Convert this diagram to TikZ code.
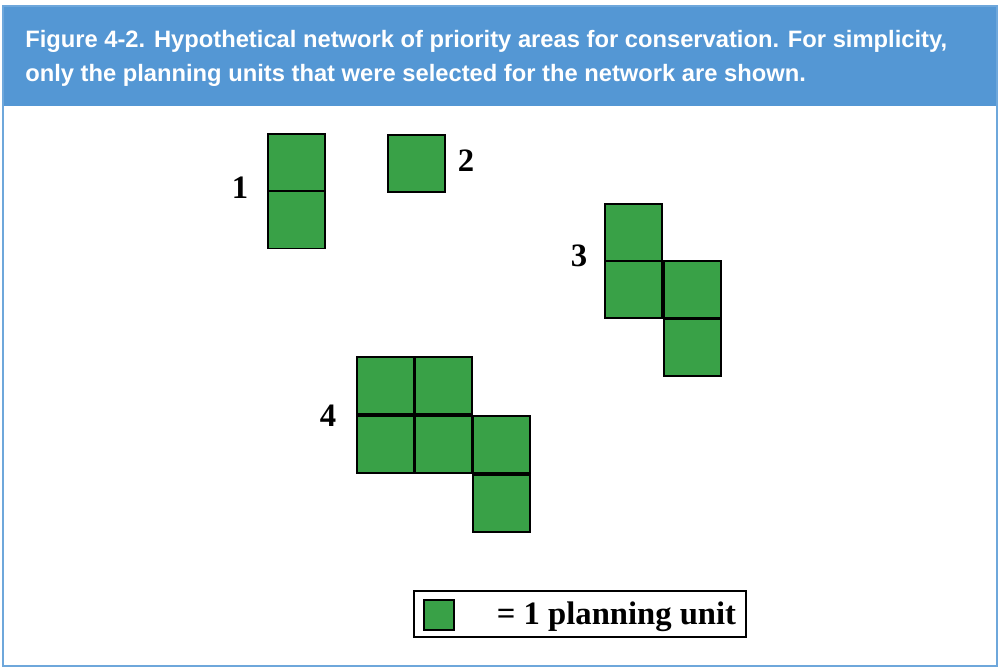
\documentclass[tikz,border=0pt]{standalone}
\usepackage{fontspec}
\setmainfont{Liberation Serif}
\newfontfamily\headfont{Liberation Sans}
\usepackage{tikz}
\usepackage{xcolor}
\definecolor{headblue}{RGB}{84,151,212}
\definecolor{unitgreen}{RGB}{57,161,71}
\tikzset{
unit/.style={
 draw=black, 
 fill=unitgreen, 
 line width=1.1pt, 
 inner sep=0pt, 
 minimum size=42.8pt
 },
keyunit/.style={
 draw=black, 
 fill=unitgreen, 
 line width=0.9pt, 
 inner sep=0pt, 
 minimum size=22.5pt
 },
arealabel/.style={
 font=\fontsize{24.5}{28}\selectfont\bfseries, 
 inner sep=0pt
 },
headline/.style={
 font=\headfont\fontsize{17.8}{20}\selectfont\bfseries, 
 text=white, 
 anchor=base west, 
 inner sep=0pt
 }
}
\begin{document}
\begin{tikzpicture}[x=0.75pt,y=-0.75pt]
\useasboundingbox (0,0) rectangle (1000,669);
\fill[headblue] (3,6) rectangle (997,106);
\draw[headblue!85,line width=1.5pt] (3,6) rectangle (997,666);
\node[headline] (head1) at (25,47) {Figure 4-2. Hypothetical network of priority areas for conservation. For simplicity,};
\node[headline] (head2) at (25,81) {only the planning units that were selected for the network are shown.};
% area 1
\node[unit] (a1) at (296.5,162.5) {};
\node[unit] (b1) at (296.5,220) {};
\node[arealabel] (l1) at (240,188) {1};
% area 2
\node[unit] (a2) at (416.5,163.5) {};
\node[arealabel] (l2) at (466,161) {2};
% area 3
\node[unit] (a3) at (633.5,232.5) {};
\node[unit] (b3) at (633.5,289.5) {};
\node[unit] (c3) at (692.5,289.5) {};
\node[unit] (d3) at (692.5,347.5) {};
\node[arealabel] (l3) at (579,256) {3};
% area 4
\node[unit] (a4) at (385.5,385.5) {};
\node[unit] (b4) at (443.5,385.5) {};
\node[unit] (c4) at (385.5,444.5) {};
\node[unit] (d4) at (443.5,444.5) {};
\node[unit] (e4) at (501.5,444.5) {};
\node[unit] (f4) at (501.5,503.5) {};
\node[arealabel] (l4) at (328,416) {4};
% legend
\node[draw=black,line width=0.9pt,minimum width=249pt,minimum height=34.5pt,inner sep=0pt] (legend) at (580,614) {};
\node[keyunit] (key) at (439,615) {};
\node[arealabel] (keytext) at (616.5,617) {= 1 planning unit};
\end{tikzpicture}
\end{document}
